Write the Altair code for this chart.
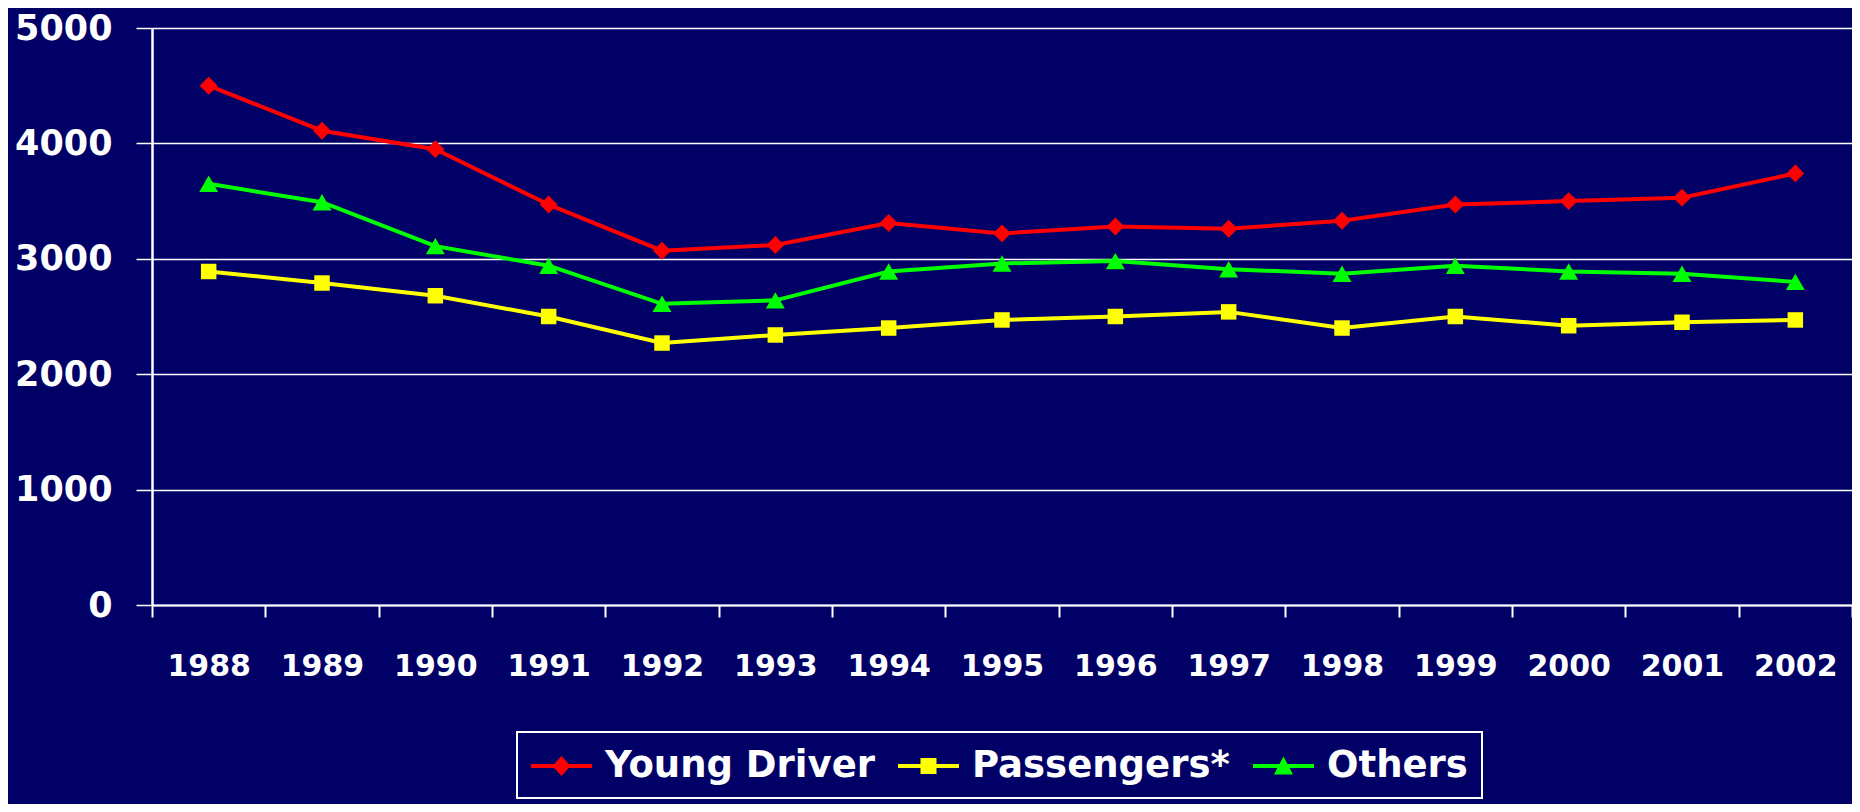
import altair as alt
import pandas as pd

years = ["1988", "1989", "1990", "1991", "1992", "1993", "1994", "1995",
         "1996", "1997", "1998", "1999", "2000", "2001", "2002"]
series_names = ["Young Driver", "Passengers*", "Others"]
series_colors = ["#FF0000", "#FFFF00", "#00FF00"]

young_driver = [4500, 4110, 3950, 3470, 3070, 3120, 3310, 3220, 3280, 3260, 3330, 3470, 3500, 3530, 3740]
passengers = [2890, 2790, 2680, 2500, 2270, 2340, 2400, 2470, 2500, 2540, 2400, 2500, 2420, 2450, 2470]
others = [3650, 3490, 3110, 2940, 2610, 2640, 2890, 2960, 2980, 2910, 2870, 2940, 2890, 2870, 2800]

y_ticks = [0, 1000, 2000, 3000, 4000, 5000]

rows = []
for name, vals in zip(series_names, [young_driver, passengers, others]):
    for yr, v in zip(years, vals):
        rows.append({"year": yr, "series": name, "value": v})
df = pd.DataFrame(rows)

NAVY = "#000066"
FONT = "DejaVu Sans"

x_enc = alt.X(
    "year:N", sort=years, bandPosition=0.5,
    scale=alt.Scale(type="band", paddingInner=0, paddingOuter=0),
    axis=alt.Axis(title=None, labelAngle=0, tickBand="extent", grid=False,
                  domainColor="white", domainWidth=2, tickColor="white",
                  tickWidth=2, tickSize=12, labelColor="white", labelFont=FONT,
                  labelFontSize=30, labelFontWeight="bold", labelPadding=34),
)
y_enc = alt.Y(
    "value:Q", scale=alt.Scale(domain=[0, 5000], nice=False),
    axis=alt.Axis(title=None, values=y_ticks, format="d", grid=True,
                  gridColor="white", gridWidth=1.5, gridOpacity=1,
                  domainColor="white", domainWidth=2.5, tickColor="white",
                  tickWidth=1.5, tickSize=16, labelColor="white",
                  labelFont=FONT, labelFontSize=35, labelFontWeight="bold",
                  labelPadding=24),
)
color_scale = alt.Scale(domain=series_names, range=series_colors)

legend_paths = [
    "M-1,-0.1H2.05V0.1H-1Z M0.525,-0.5L0.975,0L0.525,0.5L0.075,0Z",
    "M-1,-0.1H2.05V0.1H-1Z M0.125,-0.4H0.925V0.4H0.125Z",
    "M-1,-0.1H2.05V0.1H-1Z M0.525,-0.48L1.0,0.42L0.05,0.42Z",
]

leg = alt.Legend(orient="none", legendX=365, legendY=704,
                 direction="horizontal", title=None)

legend_layer = alt.Chart(df).transform_filter("datum.value < 0").mark_point(
    filled=True, opacity=1, strokeWidth=0
).encode(
    x=x_enc, y=y_enc,
    color=alt.Color("series:N", scale=color_scale, legend=leg),
    shape=alt.Shape("series:N",
                    scale=alt.Scale(domain=series_names, range=legend_paths),
                    legend=leg),
)

line_layer = alt.Chart(df).mark_line(strokeWidth=4).encode(
    x=x_enc, y=y_enc,
    color=alt.Color("series:N", scale=color_scale, legend=None),
)

marker_specs = [("Young Driver", "diamond", 320),
                ("Passengers*", "square", 240),
                ("Others", "triangle-up", 360)]
marker_layers = []
for name, shp, sz in marker_specs:
    marker_layers.append(
        alt.Chart(df).transform_filter(alt.datum.series == name).mark_point(
            filled=True, shape=shp, size=sz, opacity=1
        ).encode(
            x=x_enc, y=y_enc,
            color=alt.Color("series:N", scale=color_scale, legend=None),
        )
    )

chart = alt.layer(legend_layer, line_layer, *marker_layers).properties(
    width=1700, height=577,
    autosize=alt.AutoSizeParams(type="none"),
    padding={"left": 144, "top": 20, "right": 0, "bottom": 199},
    background=NAVY,
).configure_view(stroke=None).configure_legend(
    padding=14, symbolSize=1600, labelOffset=34, columnPadding=23,
    labelFont=FONT, labelFontSize=37, labelFontWeight="bold",
    labelColor="white", strokeColor="white", fillColor=NAVY,
    strokeWidth=2, symbolStrokeWidth=0, symbolOpacity=1, labelLimit=0,
)

chart.save("out.html", embed_options={"renderer": "svg", "actions": False})
